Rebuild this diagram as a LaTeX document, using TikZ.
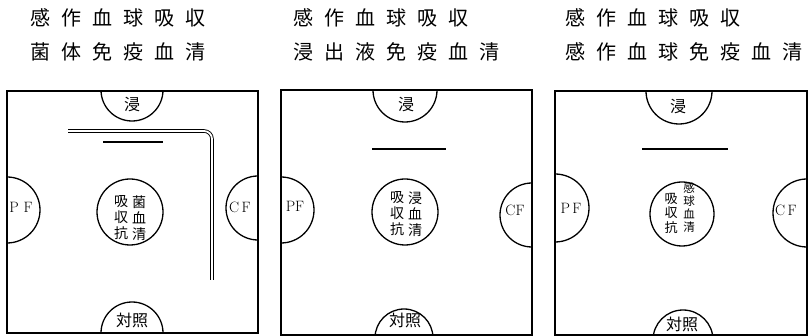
\documentclass[tikz,border=0pt]{standalone}
\usepackage{fontspec}
\newfontfamily\jp{Noto Sans CJK JP}
\newcommand\gp{\hspace{11pt}}
\begin{document}
\begin{tikzpicture}[x=1pt,y=-1pt,
  panel/.style={draw,line width=1.6pt},
  well/.style={circle,draw,line width=1.3pt,inner sep=0pt,outer sep=0pt,minimum size=#1},
  title/.style={anchor=west,inner sep=0pt,font=\jp\fontsize{20pt}{24pt}\selectfont},
  wlabel/.style={inner sep=0pt,font=\jp\fontsize{16pt}{18pt}\selectfont},
  flabel/.style={inner sep=0pt,font=\fontsize{15pt}{17pt}\selectfont},
  colA/.style={inner sep=0pt,align=center,font=\jp\fontsize{14pt}{16pt}\selectfont},
  colB/.style={inner sep=0pt,align=center,font=\jp\fontsize{13pt}{14.5pt}\selectfont},
  colC/.style={inner sep=0pt,align=center,font=\jp\fontsize{11.5pt}{13pt}\selectfont},
  bar/.style={line width=1.3pt}]
\useasboundingbox (0,0) rectangle (808,336);

% titles
\node[title] (t1a) at (30,18) {感\gp 作\gp 血\gp 球\gp 吸\gp 収};
\node[title] (t1b) at (30,52) {菌\gp 体\gp 免\gp 疫\gp 血\gp 清};
\node[title] (t2a) at (293,18) {感\gp 作\gp 血\gp 球\gp 吸\gp 収};
\node[title] (t2b) at (293,52) {浸\gp 出\gp 液\gp 免\gp 疫\gp 血\gp 清};
\node[title] (t3a) at (565,18) {感\gp 作\gp 血\gp 球\gp 吸\gp 収};
\node[title] (t3b) at (565,52) {感\gp 作\gp 血\gp 球\gp 免\gp 疫\gp 血\gp 清};

% ---------- panel 1 ----------
\begin{scope}
\clip (7,91) rectangle (258,333);
\node[well=62pt] (p1top) at (132,90) {};
\node[well=66pt] (p1pf) at (7,210) {};
\node[well=64pt] (p1cf) at (258,208) {};
\node[well=62pt] (p1bot) at (132,333) {};
\end{scope}
\draw[panel] (7,91) rectangle (258,333);
\node[well=66pt] (p1c) at (130,212) {};
\node[wlabel] (p1topl) at (132,105) {浸};
\node[wlabel] (p1botl) at (132,320) {対照};
\node[flabel] (p1pfl) at (21,207) {P\,\,F};
\node[flabel] (p1cfl) at (240,207) {C\,F};
\node[colA] (p1cl) at (121,218) {吸\\収\\抗};
\node[colA] (p1cr) at (139,218) {菌\\血\\清};
\draw[double,double distance=1.8pt,line width=0.9pt,rounded corners=8pt]
  (68,131) -- (212,131) -- (212,280);
\draw[bar] (103,142) -- (163,142);

% ---------- panel 2 ----------
\begin{scope}
\clip (281,90) rectangle (532,335);
\node[well=64pt] (p2top) at (405,90) {};
\node[well=66pt] (p2pf) at (281,210) {};
\node[well=64pt] (p2cf) at (532,215) {};
\node[well=58pt] (p2bot) at (404,338) {};
\end{scope}
\draw[panel] (281,90) rectangle (532,335);
\node[well=66pt] (p2c) at (405,212) {};
\node[wlabel] (p2topl) at (406,105) {浸};
\node[wlabel] (p2botl) at (405,320) {対照};
\node[flabel] (p2pfl) at (295,206) {PF};
\node[flabel] (p2cfl) at (515,210) {CF};
\node[colA] (p2cl) at (397,214) {吸\\収\\抗};
\node[colA] (p2cr) at (415,214) {浸\\血\\清};
\draw[bar] (372,149) -- (446,149);

% ---------- panel 3 ----------
\begin{scope}
\clip (555,91) rectangle (807,335);
\node[well=66pt] (p3top) at (679,91) {};
\node[well=68pt] (p3pf) at (555,208) {};
\node[well=68pt] (p3cf) at (807,213) {};
\node[well=60pt] (p3bot) at (683,340) {};
\end{scope}
\draw[panel] (555,91) rectangle (807,335);
\node[well=64pt] (p3c) at (682,214) {};
\node[wlabel] (p3topl) at (678,107) {浸};
\node[wlabel] (p3botl) at (682,324) {対照};
\node[flabel] (p3pfl) at (571,208) {P\,F};
\node[flabel] (p3cfl) at (786,210) {C\,F};
\node[colB] (p3cl) at (671,213) {吸\\収\\抗};
\node[colC] (p3cr) at (689,208) {感\\球\\血\\清};
\draw[bar] (642,149) -- (728,149);
\end{tikzpicture}
\end{document}
